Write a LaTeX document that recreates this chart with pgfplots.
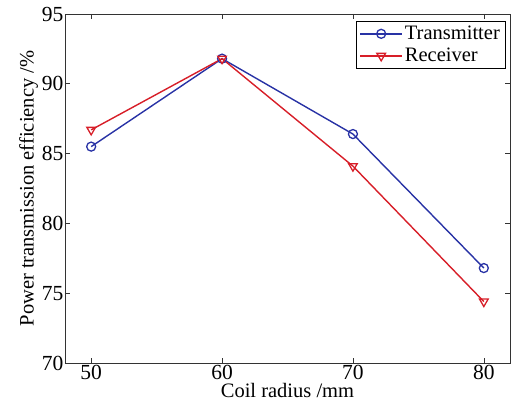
\documentclass[border=0pt]{standalone}
\usepackage{pgfplots}
\pgfplotsset{compat=1.18}
\usepackage{fontspec}
\setmainfont{Liberation Serif}
\definecolor{txblue}{RGB}{40,50,165}
\definecolor{rxred}{RGB}{215,30,40}
\begin{document}
\begin{tikzpicture}
\begin{axis}[
  scale only axis,
  width=445pt, height=349pt,
  xmin=48, xmax=82, ymin=70, ymax=95,
  xtick={50,60,70,80},
  ytick={70,75,80,85,90,95},
  tick align=inside,
  major tick length=5pt,
  axis line style={black!80, line width=0.8pt},
  tick style={black!80, line width=0.6pt},
  /pgf/number format/assume math mode=true,
  tick label style={font=\fontsize{21.5}{24}\selectfont},
  yticklabel style={inner sep=1.5pt},
  xticklabel style={inner sep=2pt},
  label style={font=\fontsize{20.5}{24}\selectfont},
  xlabel={Coil radius /mm},
  ylabel={Power transmission efficiency /\%},
  xlabel style={inner sep=0pt, yshift=-1pt},
  ylabel style={inner sep=0pt, yshift=2pt},
  legend style={at={(0.989,0.98)}, anchor=north east, draw=black,
    line width=0.6pt, font=\fontsize{20.5}{23}\selectfont,
    inner xsep=3pt, inner ysep=3pt, row sep=3pt},
  legend cell align=left,
  legend image code/.code={
    \draw[mark repeat=2, mark phase=2]
      plot coordinates {(0pt,0pt) (21pt,0pt) (42pt,0pt)};
  },
]
\addplot[txblue, line width=1.4pt, mark=o, mark size=4.5pt,
  mark options={line width=1.3pt}]
  coordinates {(50,85.5) (60,91.8) (70,86.4) (80,76.8)};
\addlegendentry{Transmitter}
\addplot[rxred, line width=1.4pt, mark=triangle, mark size=5pt,
  mark options={rotate=180, line width=1.3pt}]
  coordinates {(50,86.7) (60,91.8) (70,84.1) (80,74.4)};
\addlegendentry{Receiver}
\end{axis}
% white margin around the axis box
\path (current axis.south west) ++(-65pt,-51pt);
\path (current axis.north east) ++(2pt,14pt);
\end{tikzpicture}
\end{document}
